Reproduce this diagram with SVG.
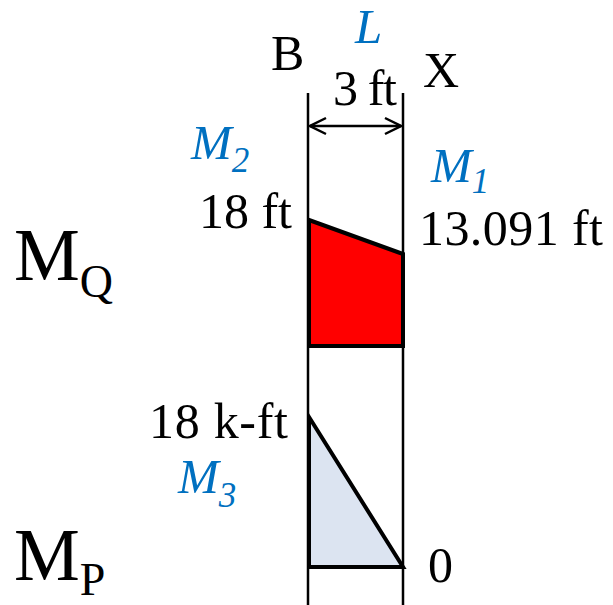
<svg xmlns="http://www.w3.org/2000/svg" width="613" height="605" viewBox="0 0 613 605">
<style>
text{font-family:"Liberation Serif","Times New Roman",serif;fill:#000}
.t{font-size:50px}
.b{fill:#0070C0;font-style:italic;font-size:49px}
.s{font-size:35px}
.big{font-size:74px}
.sub{font-size:46px}
.guide{stroke:#000;stroke-width:2.5;fill:none}
.shape{stroke:#000;stroke-width:4;stroke-linejoin:miter}
</style>
<defs>
<marker id="ah" viewBox="0 0 20 20" refX="19" refY="10" markerWidth="20" markerHeight="20" markerUnits="userSpaceOnUse" orient="auto-start-reverse">
<path d="M3,2 L19,10 L3,18" fill="none" stroke="#000" stroke-width="2.5"/>
</marker>
</defs>
<g id="guides">
<line class="guide" x1="308" y1="93" x2="308" y2="605"/>
<line class="guide" x1="403" y1="93" x2="403" y2="605"/>
</g>
<g id="connectors">
<line x1="310" y1="126" x2="401" y2="126" stroke="#000" stroke-width="2.5" marker-start="url(#ah)" marker-end="url(#ah)"/>
</g>
<g id="MQ-diagram">
<polygon class="shape" points="309,220 403,254 403,346 309,346" fill="#FF0000"/>
</g>
<g id="MP-diagram">
<polygon class="shape" points="309,417 403,567 309,567" fill="#DCE4F1"/>
</g>
<g id="labels">
<text class="t" x="271" y="70">B</text>
<text class="b" x="355" y="43">L</text>
<text class="t" x="423" y="87">X</text>
<text class="t" x="333" y="105" textLength="64">3 ft</text>
<text class="b" x="191" y="159">M<tspan class="s" dy="13">2</tspan></text>
<text class="b" x="431" y="182">M<tspan class="s" dy="11">1</tspan></text>
<text class="t" x="199" y="228" textLength="93">18 ft</text>
<text class="t" x="419" y="245" textLength="184">13.091 ft</text>
<text class="big" x="14" y="280">M<tspan class="sub" dy="17">Q</tspan></text>
<text class="t" x="149" y="438" textLength="139">18 k-ft</text>
<text class="b" x="178" y="493">M<tspan class="s" dy="14">3</tspan></text>
<text class="big" x="14" y="580">M<tspan class="sub" dy="15">P</tspan></text>
<text class="t" x="428" y="582">0</text>
</g>
</svg>
